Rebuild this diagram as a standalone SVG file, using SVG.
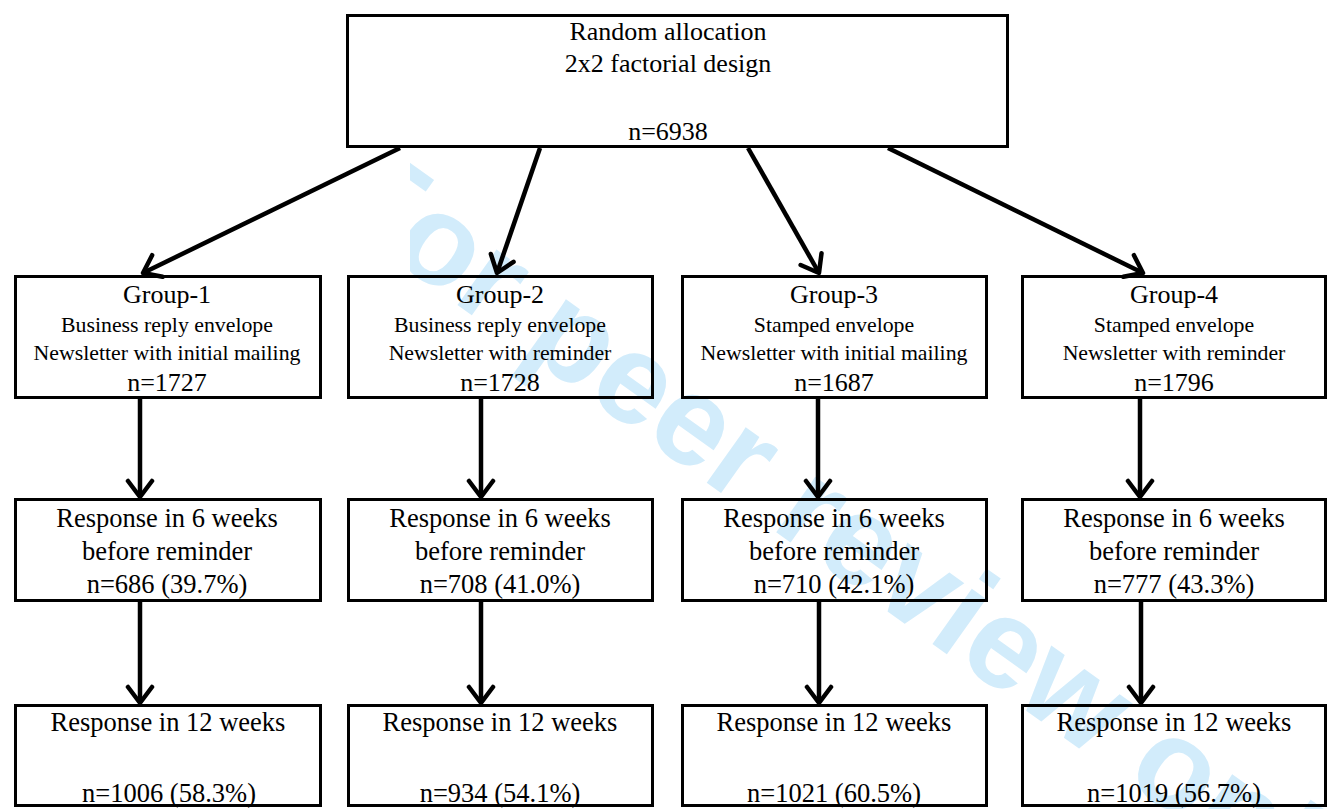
<svg xmlns="http://www.w3.org/2000/svg" width="1331" height="809" viewBox="0 0 1331 809">
<defs>
<style>
.box{fill:none;stroke:#000;stroke-width:3}
.topbox{fill:#fff;stroke:#000;stroke-width:3}
.t{font-family:"Liberation Serif","Times New Roman",serif;fill:#000;text-anchor:middle}
.l{font-size:26px}
.s{font-size:21.8px}
.r{font-size:26.5px}
.c{fill:none;stroke:#000;stroke-width:4.5}
.wm{font-family:"Liberation Sans",Arial,sans-serif;font-weight:bold;font-size:128px;fill:#d2ecfb}
</style>
<marker id="ah" viewBox="-20 -15 24 30" refX="0" refY="0" markerWidth="24" markerHeight="30" markerUnits="userSpaceOnUse" orient="auto">
<path d="M-16,-12 L0,0 L-16,12" fill="none" stroke="#000" stroke-width="4.5" stroke-linecap="round" stroke-linejoin="round"/>
</marker>
<clipPath id="wmclip"><rect x="410" y="0" width="921" height="809"/></clipPath>
</defs>
<rect x="0" y="0" width="1331" height="809" fill="#fff"/>
<g id="watermark" clip-path="url(#wmclip)">
<text class="wm" transform="translate(323 209) rotate(35.5)">For peer review only</text>
</g>
<g id="top">
<rect class="topbox" x="347.5" y="15.5" width="660" height="131"/>
<text class="t l" x="668" y="40">Random allocation</text>
<text class="t l" x="668" y="72">2x2 factorial design</text>
<text class="t l" x="668" y="140">n=6938</text>
</g>
<g id="group1">
<rect class="box" x="15.5" y="276.5" width="305" height="121"/>
<text class="t l" x="167" y="303">Group-1</text>
<text class="t s" x="167" y="332">Business reply envelope</text>
<text class="t s" x="167" y="360">Newsletter with initial mailing</text>
<text class="t l" x="167" y="391">n=1727</text>
</g>
<g id="group2">
<rect class="box" x="348.5" y="276.5" width="304" height="121"/>
<text class="t l" x="500" y="303">Group-2</text>
<text class="t s" x="500" y="332">Business reply envelope</text>
<text class="t s" x="500" y="360">Newsletter with reminder</text>
<text class="t l" x="500" y="391">n=1728</text>
</g>
<g id="group3">
<rect class="box" x="682.5" y="276.5" width="304" height="121"/>
<text class="t l" x="834" y="303">Group-3</text>
<text class="t s" x="834" y="332">Stamped envelope</text>
<text class="t s" x="834" y="360">Newsletter with initial mailing</text>
<text class="t l" x="834" y="391">n=1687</text>
</g>
<g id="group4">
<rect class="box" x="1022.5" y="276.5" width="303" height="121"/>
<text class="t l" x="1174" y="303">Group-4</text>
<text class="t s" x="1174" y="332">Stamped envelope</text>
<text class="t s" x="1174" y="360">Newsletter with reminder</text>
<text class="t l" x="1174" y="391">n=1796</text>
</g>
<g id="resp6-1">
<rect class="box" x="15.5" y="499.5" width="305" height="101"/>
<text class="t r" x="167" y="527">Response in 6 weeks</text>
<text class="t r" x="167" y="560">before reminder</text>
<text class="t r" x="167" y="593">n=686 (39.7%)</text>
</g>
<g id="resp6-2">
<rect class="box" x="348.5" y="499.5" width="304" height="101"/>
<text class="t r" x="500" y="527">Response in 6 weeks</text>
<text class="t r" x="500" y="560">before reminder</text>
<text class="t r" x="500" y="593">n=708 (41.0%)</text>
</g>
<g id="resp6-3">
<rect class="box" x="682.5" y="499.5" width="304" height="101"/>
<text class="t r" x="834" y="527">Response in 6 weeks</text>
<text class="t r" x="834" y="560">before reminder</text>
<text class="t r" x="834" y="593">n=710 (42.1%)</text>
</g>
<g id="resp6-4">
<rect class="box" x="1022.5" y="499.5" width="303" height="101"/>
<text class="t r" x="1174" y="527">Response in 6 weeks</text>
<text class="t r" x="1174" y="560">before reminder</text>
<text class="t r" x="1174" y="593">n=777 (43.3%)</text>
</g>
<g id="resp12-1">
<rect class="box" x="15.5" y="705.5" width="305" height="100"/>
<text class="t r" x="168" y="731">Response in 12 weeks</text>
<text class="t r" x="169" y="802">n=1006 (58.3%)</text>
</g>
<g id="resp12-2">
<rect class="box" x="348.5" y="705.5" width="304" height="100"/>
<text class="t r" x="500" y="731">Response in 12 weeks</text>
<text class="t r" x="500" y="802">n=934 (54.1%)</text>
</g>
<g id="resp12-3">
<rect class="box" x="682.5" y="705.5" width="304" height="100"/>
<text class="t r" x="834" y="731">Response in 12 weeks</text>
<text class="t r" x="834" y="802">n=1021 (60.5%)</text>
</g>
<g id="resp12-4">
<rect class="box" x="1022.5" y="705.5" width="303" height="100"/>
<text class="t r" x="1174" y="731">Response in 12 weeks</text>
<text class="t r" x="1174" y="802">n=1019 (56.7%)</text>
</g>
<g id="connectors">
<line class="c" x1="400" y1="148" x2="143" y2="273" marker-end="url(#ah)"/>
<line class="c" x1="540" y1="148" x2="497" y2="273" marker-end="url(#ah)"/>
<line class="c" x1="748" y1="148" x2="819" y2="273" marker-end="url(#ah)"/>
<line class="c" x1="888" y1="148" x2="1143" y2="273" marker-end="url(#ah)"/>
<line class="c" x1="140" y1="399" x2="140" y2="497" marker-end="url(#ah)"/>
<line class="c" x1="481" y1="399" x2="481" y2="497" marker-end="url(#ah)"/>
<line class="c" x1="818" y1="399" x2="818" y2="497" marker-end="url(#ah)"/>
<line class="c" x1="1140" y1="399" x2="1140" y2="497" marker-end="url(#ah)"/>
<line class="c" x1="140" y1="602" x2="140" y2="703" marker-end="url(#ah)"/>
<line class="c" x1="481" y1="602" x2="481" y2="703" marker-end="url(#ah)"/>
<line class="c" x1="819" y1="602" x2="819" y2="703" marker-end="url(#ah)"/>
<line class="c" x1="1141" y1="602" x2="1141" y2="703" marker-end="url(#ah)"/>
</g>
</svg>
